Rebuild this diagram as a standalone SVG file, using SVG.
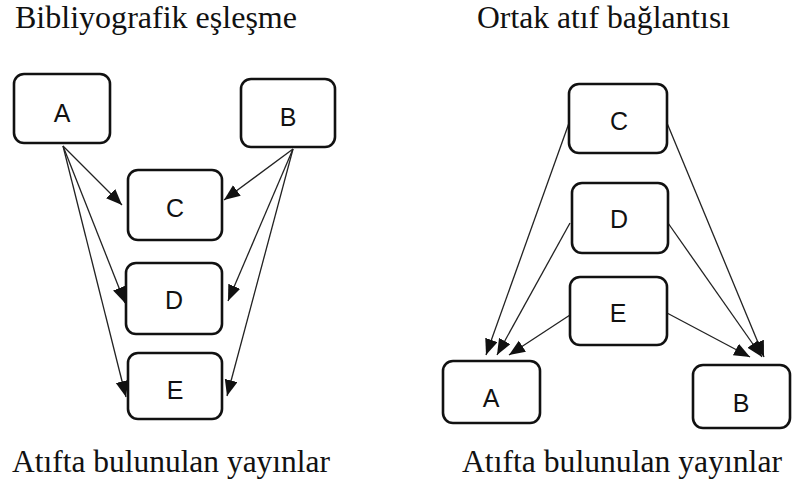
<svg xmlns="http://www.w3.org/2000/svg" width="792" height="488" viewBox="0 0 792 488">
<style>
.box{fill:#fff;stroke:#111;stroke-width:2.6}
.lbl{font-family:"Liberation Sans","DejaVu Sans",sans-serif;font-size:25px;fill:#111;text-anchor:middle}
.ttl{font-family:"Liberation Serif","DejaVu Serif",serif;font-size:32px;fill:#111}
.edge{stroke:#222;stroke-width:1.3;fill:none;marker-end:url(#ah)}
</style>
<defs>
<marker id="ah" markerUnits="userSpaceOnUse" markerWidth="17" markerHeight="14" refX="16" refY="6.5" orient="auto">
<path d="M0,0 L16,6.5 L0,13 z" fill="#111"/>
</marker>
</defs>
<rect width="792" height="488" fill="#fff"/>
<text class="ttl" x="15" y="28" textLength="282" lengthAdjust="spacingAndGlyphs">Bibliyografik eşleşme</text>
<text class="ttl" x="477" y="28" textLength="253" lengthAdjust="spacingAndGlyphs">Ortak atıf bağlantısı</text>
<text class="ttl" x="12" y="472" textLength="318" lengthAdjust="spacingAndGlyphs">Atıfta bulunulan yayınlar</text>
<text class="ttl" x="462" y="472" textLength="320" lengthAdjust="spacingAndGlyphs">Atıfta bulunulan yayınlar</text>
<g id="connectors">
<line class="edge" x1="63" y1="146" x2="122" y2="205"/>
<line class="edge" x1="63" y1="146" x2="125" y2="303"/>
<line class="edge" x1="63" y1="146" x2="126" y2="397"/>
<line class="edge" x1="293" y1="149" x2="224" y2="200"/>
<line class="edge" x1="293" y1="149" x2="228" y2="301"/>
<line class="edge" x1="293" y1="149" x2="227" y2="396"/>
<line class="edge" x1="569" y1="123" x2="486" y2="355"/>
<line class="edge" x1="570" y1="223" x2="497" y2="355"/>
<line class="edge" x1="570" y1="315" x2="509" y2="355"/>
<line class="edge" x1="667" y1="123" x2="764" y2="357"/>
<line class="edge" x1="668" y1="223" x2="762" y2="357"/>
<line class="edge" x1="667" y1="313" x2="750" y2="357"/>
</g>
<g id="L-A"><rect class="box" x="14" y="74" width="96" height="69" rx="10"/><text class="lbl" x="62" y="122">A</text></g>
<g id="L-B"><rect class="box" x="241" y="79" width="94" height="68" rx="10"/><text class="lbl" x="288" y="126">B</text></g>
<g id="L-C"><rect class="box" x="128" y="170" width="94" height="70" rx="10"/><text class="lbl" x="175" y="217">C</text></g>
<g id="L-D"><rect class="box" x="126" y="263" width="96" height="71" rx="10"/><text class="lbl" x="174" y="309">D</text></g>
<g id="L-E"><rect class="box" x="128" y="353" width="94" height="66" rx="10"/><text class="lbl" x="175" y="399">E</text></g>
<g id="R-C"><rect class="box" x="569" y="84" width="98" height="69" rx="10"/><text class="lbl" x="619" y="130">C</text></g>
<g id="R-D"><rect class="box" x="572" y="183" width="96" height="70" rx="10"/><text class="lbl" x="619" y="228">D</text></g>
<g id="R-E"><rect class="box" x="570" y="277" width="97" height="68" rx="10"/><text class="lbl" x="618" y="322">E</text></g>
<g id="R-A"><rect class="box" x="443" y="361" width="97" height="62" rx="10"/><text class="lbl" x="491" y="407">A</text></g>
<g id="R-B"><rect class="box" x="693" y="365" width="97" height="63" rx="10"/><text class="lbl" x="741" y="412">B</text></g>
</svg>
